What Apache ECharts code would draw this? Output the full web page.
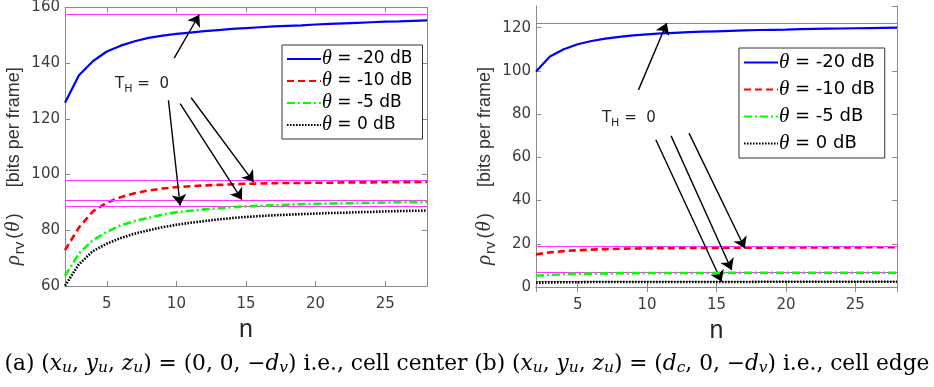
<!DOCTYPE html>
<html><head><meta charset="utf-8">
<script src="https://cdn.jsdelivr.net/npm/echarts@6/dist/echarts.min.js"></script>
<style>html,body{margin:0;padding:0;background:#fff}#c{width:934px;height:387px}</style>
</head><body><div id="c"></div>
<script>
// ---------- data ----------
const nVals = [2,3,4,5,6,7,8,9,10,11,12,13,14,15,16,17,18,19,20,21,22,23,24,25,26,27,28];
const seriesNames = ['θ = -20 dB','θ = -10 dB','θ = -5 dB','θ = 0 dB'];

// (a) cell center
const leftM20 = [125.8,135.7,140.7,144.2,146.3,147.9,149.1,149.9,150.5,151.0,151.5,151.9,152.3,152.6,152.9,153.2,153.4,153.6,153.9,154.1,154.3,154.5,154.7,154.9,155.0,155.2,155.4];
const leftM10 = [72.9,81.0,86.8,89.9,91.9,93.3,94.3,95.0,95.5,95.8,96.1,96.3,96.5,96.7,96.8,96.9,97.0,97.0,97.1,97.1,97.2,97.2,97.2,97.3,97.3,97.3,97.4];
const leftM5  = [63.6,71.7,76.4,79.4,81.8,83.3,84.5,85.6,86.5,87.0,87.5,87.9,88.3,88.6,88.8,89.0,89.2,89.4,89.5,89.6,89.7,89.8,89.9,90.0,90.1,90.1,90.2];
const left0   = [60.1,67.8,72.5,75.2,77.2,78.8,80.0,81.1,82.0,82.7,83.3,83.9,84.4,84.8,85.1,85.4,85.6,85.8,86.0,86.2,86.3,86.5,86.6,86.8,86.9,87.0,87.1];
const leftLimits = [157.6, 97.9, 90.7, 88.8];   // T_H = 0 asymptotes

// (b) cell edge
const rightM20 = [99.7,106.6,110.0,112.3,113.8,114.9,115.7,116.4,116.9,117.3,117.6,117.9,118.1,118.3,118.5,118.7,118.9,119.0,119.1,119.3,119.4,119.5,119.6,119.7,119.8,119.9,120.0];
const rightM10 = [15.1,16.0,16.6,17.0,17.3,17.5,17.7,17.8,17.9,18.0,18.0,18.1,18.1,18.1,18.2,18.2,18.2,18.2,18.3,18.3,18.3,18.3,18.3,18.3,18.4,18.4,18.4];
const rightM5  = [5.2,5.6,5.9,6.1,6.2,6.3,6.4,6.4,6.5,6.5,6.5,6.5,6.5,6.5,6.6,6.6,6.6,6.6,6.6,6.6,6.6,6.6,6.6,6.6,6.6,6.6,6.6];
const right0   = [2.0,2.1,2.2,2.2,2.3,2.3,2.3,2.3,2.3,2.3,2.3,2.3,2.3,2.3,2.3,2.3,2.4,2.4,2.4,2.4,2.4,2.4,2.4,2.4,2.4,2.4,2.4];
const rightLimits = [121.8, 19.0, 6.9, 2.6];

// annotation arrows in data coordinates [[n0,v0],[n1,v1]]
const leftArrows = [
  [[9.84,141.8],[11.64,157.4]],
  [[9.43,126.7],[10.27,88.9]],
  [[10.27,125.5],[14.71,91.0]],
  [[11.06,127.6],[15.55,97.3]]
];
const leftLabelAt = [5.6,132.5];
const rightArrows = [
  [[9.38,91.2],[11.42,122.1]],
  [[10.63,68.1],[15.37,2.45]],
  [[11.73,69.9],[16.09,7.9]],
  [[13.02,71.2],[17.04,17.9]]
];
const rightLabelAt = [6.75,78.2];

// ---------- styles ----------
const SANS = '"DejaVu Sans", Verdana, sans-serif';
const ARIAL = '"Liberation Sans", Arial, Helvetica, sans-serif';
const SERIF = '"Liberation Serif", "Times New Roman", serif';
const CAPSERIF = '"DejaVu Serif", Georgia, serif';
const axisCol = '#8a8a8a';
const labCol = '#3c3c3c';
const colors = ['#0000ff','#ff0000','#00ff00','#000000'];
const widths = [2.2, 2.6, 2.6, 2.6];
const dashes = ['solid', [7,4], [8,3,2,3], [1.6,1.4]];

function makeSeries(grid, arrays, limits) {
  return arrays.map((arr, i) => ({
    name: seriesNames[i],
    type: 'line',
    xAxisIndex: grid*2, yAxisIndex: grid*2,
    symbol: 'none',
    smooth: false,
    z: 3 + i,
    lineStyle: {color: colors[i], width: widths[i], type: dashes[i]},
    itemStyle: {color: colors[i]},
    data: nVals.map((n, k) => [n, arr[k]]),
    markLine: {
      silent: true, symbol: 'none', animation: false,
      label: {show: false},
      lineStyle: {color: '#ff33ff', width: 1.2, type: 'solid'},
      data: [{yAxis: limits[i]}]
    }
  }));
}
function annotSeries(grid, arrows, labelAt) {
  return {
    name: 'annot' + grid, type: 'line', xAxisIndex: grid*2, yAxisIndex: grid*2,
    data: [], symbol: 'none', z: 10,
    markLine: {
      silent: true, animation: false,
      symbol: ['none','arrow'], symbolSize: 11,
      label: {show: false},
      lineStyle: {color: '#000', width: 1.4, type: 'solid'},
      data: arrows.map(a => [{coord: a[0]}, {coord: a[1]}])
    },
    markPoint: {
      silent: true, animation: false, symbol: 'circle', symbolSize: 0,
      data: [{coord: labelAt}],
      label: {
        show: true, position: 'right', distance: 0,
        formatter: '{t|T}{sub|H}{t| =  0}',
        rich: {
          t: {fontFamily: SANS, fontSize: 15, color: '#262626'},
          sub: {fontFamily: SANS, fontSize: 11, color: '#262626', padding: [11,0,0,0]}
        }
      }
    }
  };
}
function xAxes(grid) {
  const base = {
    gridIndex: grid, type: 'value', min: 2, max: 28,
    splitLine: {show: false},
    axisLine: {show: true, lineStyle: {color: axisCol, width: 1}},
    axisTick: {show: true, inside: true, length: 5, lineStyle: {color: axisCol}},
  };
  return [
    Object.assign({}, base, {
      position: 'bottom',
      axisLabel: {show: true, showMinLabel: false, showMaxLabel: false, margin: 11,
                  fontFamily: SANS, fontSize: 15, color: labCol},
      name: 'n', nameLocation: 'middle', nameGap: 32,
      nameTextStyle: {fontFamily: ARIAL, fontSize: 25, color: '#262626'}
    }),
    Object.assign({}, base, {position: 'top', axisLabel: {show: false}})
  ];
}
function yAxes(grid, min, max) {
  const base = {
    gridIndex: grid, type: 'value', min: min, max: max, interval: 20,
    splitLine: {show: false},
    axisLine: {show: true, lineStyle: {color: axisCol, width: 1}},
    axisTick: {show: true, inside: true, length: 5, lineStyle: {color: axisCol}},
  };
  return [
    Object.assign({}, base, {
      position: 'left',
      axisLabel: {show: true, showMaxLabel: max % 20 === 0, margin: 5,
                  fontFamily: SANS, fontSize: 15, color: labCol},
      name: '{g|ρ}{sub|rv}{t|(}{g|θ}{gap|)}{e|[bits per frame]}',
      nameLocation: 'middle', nameRotate: 90, nameGap: grid === 0 ? 34 : 27,
      nameTextStyle: {
        fontFamily: ARIAL, fontSize: 18, color: '#262626',
        rich: {
          t: {fontFamily: ARIAL, fontSize: 18, color: '#333', padding: [0,0,0,1]},
          gap: {fontFamily: ARIAL, fontSize: 18, color: '#333', padding: [0,26,0,1]},
          e: {fontFamily: ARIAL, fontSize: 18, color: '#333', padding: [0,40,0,0]},
          g: {fontFamily: SERIF, fontStyle: 'italic', fontSize: 21, color: '#333', padding: [0,1,0,1]},
          sub: {fontFamily: ARIAL, fontSize: 15, color: '#333', padding: [12,2,0,0]}
        }
      }
    }),
    Object.assign({}, base, {position: 'right', axisLabel: {show: false}})
  ];
}
function legendFor(grid, left, top, gap, fs, padR) {
  return {
    show: true, orient: 'vertical',
    left: left, top: top,
    data: seriesNames,
    backgroundColor: '#fff', borderColor: '#333', borderWidth: 1, borderRadius: 0,
    padding: [4, padR, 4, 4],
    itemWidth: 34, itemHeight: 14, itemGap: gap,
    selectedMode: false,
    itemStyle: {color: 'rgba(0,0,0,0)', borderColor: 'rgba(0,0,0,0)', borderWidth: 0},
    formatter: name => '{i|θ}{t|' + name.slice(1) + '}',
    textStyle: {
      fontFamily: SANS, fontSize: fs, color: '#000', padding: [0,0,0,-4],
      rich: {
        t: {fontFamily: SANS, fontSize: fs, color: '#000'},
        i: {fontFamily: SERIF, fontStyle: 'italic', fontSize: fs + 3, color: '#000'}
      }
    }
  };
}

const chart = echarts.init(document.getElementById('c'), null, {renderer: 'canvas'});
chart.setOption({
  animation: false,
  backgroundColor: '#fff',
  grid: [
    {left: 65, top: 6, width: 362, height: 280},
    {left: 536, top: 6, width: 361, height: 281}
  ],
  legend: [legendFor(0, 282, 45, 2, 17, 10), legendFor(1, 739, 48, 6, 18, 10)],
  xAxis: xAxes(0).concat(xAxes(1)),
  yAxis: yAxes(0, 60, 160).concat(yAxes(1, 0, 130)),
  series: makeSeries(0, [leftM20, leftM10, leftM5, left0], leftLimits)
    .concat([annotSeries(0, leftArrows, leftLabelAt)])
    .concat(makeSeries(1, [rightM20, rightM10, rightM5, right0], rightLimits))
    .concat([annotSeries(1, rightArrows, rightLabelAt)]),
  graphic: [{
    type: 'text', left: 'center', top: 353, silent: true,
    style: {
      text: '{r|(a) (}{v|x}{s|u}{r|, }{v|y}{s|u}{r|, }{v|z}{s|u}{r|) = (0, 0, −}{v|d}{s|v}{r|) i.e., cell center (b) (}{v|x}{s|u}{r|, }{v|y}{s|u}{r|, }{v|z}{s|u}{r|) = (}{v|d}{s|c}{r|, 0, −}{v|d}{s|v}{r|) i.e., cell edge}',
      rich: {
        r: {fontFamily: CAPSERIF, fontSize: 21.7, fill: '#000'},
        v: {fontFamily: CAPSERIF, fontStyle: 'italic', fontSize: 21.7, fill: '#000'},
        s: {fontFamily: CAPSERIF, fontStyle: 'italic', fontSize: 15.5, fill: '#000', padding: [8,0,0,0]}
      }
    }
  }]
});
</script></body></html>
